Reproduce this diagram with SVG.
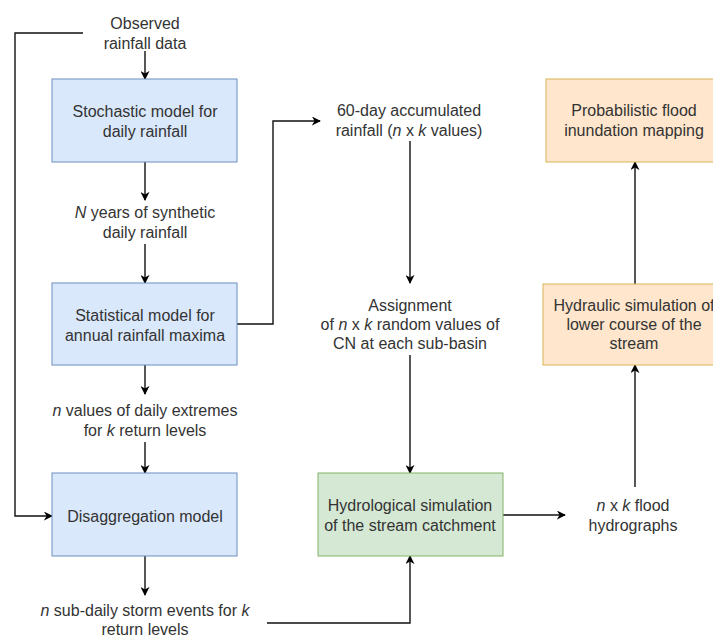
<svg xmlns="http://www.w3.org/2000/svg" width="713" height="640" viewBox="0 0 713 640">
<defs>
<style>
text{font-family:"Liberation Sans",Arial,sans-serif;font-size:16px;fill:#333;text-anchor:middle;dominant-baseline:central}
.blue{fill:#dae8fc;stroke:#6c8ebf;stroke-width:1}
.green{fill:#d5e8d4;stroke:#82b366;stroke-width:1}
.orange{fill:#ffe6cc;stroke:#d6b656;stroke-width:1}
.c{fill:none;stroke:#111;stroke-width:1.4}
.i{font-style:italic}
</style>
<marker id="ah" viewBox="0 0 10 10" refX="9" refY="5" markerWidth="9" markerHeight="9" markerUnits="userSpaceOnUse" orient="auto">
<path d="M0,0 L10,5 L0,10 L3,5 z" fill="#000"/>
</marker>
</defs>
<rect width="713" height="640" fill="#fff"/>
<g id="connectors">
<path class="c" d="M145,51 V79" marker-end="url(#ah)"/>
<path class="c" d="M83,33 H15 V516 H52" marker-end="url(#ah)"/>
<path class="c" d="M145,162 V200" marker-end="url(#ah)"/>
<path class="c" d="M145,244 V283" marker-end="url(#ah)"/>
<path class="c" d="M145,365 V394" marker-end="url(#ah)"/>
<path class="c" d="M145,442 V473" marker-end="url(#ah)"/>
<path class="c" d="M145,556 V595" marker-end="url(#ah)"/>
<path class="c" d="M237,324 H273 V121 H320" marker-end="url(#ah)"/>
<path class="c" d="M410,141 V283" marker-end="url(#ah)"/>
<path class="c" d="M410,355 V473" marker-end="url(#ah)"/>
<path class="c" d="M267,623 H410 V556" marker-end="url(#ah)"/>
<path class="c" d="M503,515 H565" marker-end="url(#ah)"/>
<path class="c" d="M635,487 V365" marker-end="url(#ah)"/>
<path class="c" d="M635,284 V162" marker-end="url(#ah)"/>
</g>
<g id="observed"><text x="145" y="23">Observed</text><text x="145" y="43">rainfall data</text></g>
<g id="stochastic"><rect class="blue" x="52" y="79" width="185" height="83"/><text x="145" y="111">Stochastic model for</text><text x="145" y="131">daily rainfall</text></g>
<g id="nyears"><text x="145" y="212"><tspan class="i">N</tspan> years of synthetic</text><text x="145" y="232">daily rainfall</text></g>
<g id="statistical"><rect class="blue" x="52" y="283" width="185" height="82"/><text x="145" y="315">Statistical model for</text><text x="145" y="335">annual rainfall maxima</text></g>
<g id="nvalues"><text x="145" y="410"><tspan class="i">n</tspan> values of daily extremes</text><text x="145" y="430">for <tspan class="i">k</tspan> return levels</text></g>
<g id="disaggregation"><rect class="blue" x="52" y="473" width="185" height="83"/><text x="145" y="516">Disaggregation model</text></g>
<g id="subdaily"><text x="145" y="610"><tspan class="i">n</tspan> sub-daily storm events for <tspan class="i">k</tspan></text><text x="145" y="629">return levels</text></g>
<g id="accumulated"><text x="409" y="110">60-day accumulated</text><text x="409" y="130">rainfall (<tspan class="i">n</tspan> x <tspan class="i">k</tspan> values)</text></g>
<g id="assignment"><text x="410" y="305">Assignment</text><text x="410" y="324">of <tspan class="i">n</tspan> x <tspan class="i">k</tspan> random values of</text><text x="410" y="343">CN at each sub-basin</text></g>
<g id="hydrological"><rect class="green" x="318" y="473" width="185" height="83"/><text x="410" y="505">Hydrological simulation</text><text x="410" y="525">of the stream catchment</text></g>
<g id="hydrographs"><text x="633" y="505"><tspan class="i">n</tspan> x <tspan class="i">k</tspan> flood</text><text x="633" y="525">hydrographs</text></g>
<g id="hydraulic"><rect class="orange" x="543" y="284" width="185" height="81"/><text x="634" y="305">Hydraulic simulation of</text><text x="634" y="324">lower course of the</text><text x="634" y="343">stream</text></g>
<g id="probabilistic"><rect class="orange" x="546" y="79" width="185" height="83"/><text x="634" y="110">Probabilistic flood</text><text x="634" y="130">inundation mapping</text></g>
</svg>
